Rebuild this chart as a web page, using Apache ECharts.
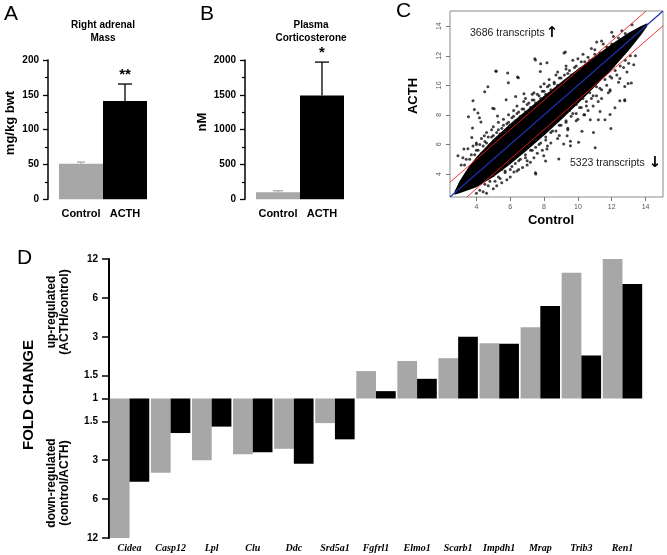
<!DOCTYPE html>
<html><head><meta charset="utf-8">
<script src="https://cdn.jsdelivr.net/npm/echarts@6/dist/echarts.min.js"></script>
<style>html,body{margin:0;padding:0;background:#fff}#c{width:667px;height:555px}</style>
</head><body><div id="c"></div>
<script>
// ---------- Panel A : Right adrenal mass ----------
const groupCats = ['Control', 'ACTH'];
const adrenalMass = [51, 141];
const adrenalMassErrTop = [53.5, 165.5];
const adrenalSig = ['', '**'];
// ---------- Panel B : Plasma corticosterone ----------
const corticosterone = [100, 1490];
const corticosteroneErrTop = [123, 1970];
const corticosteroneSig = ['', '*'];
// ---------- Panel C : microarray scatter (log2 expression) ----------
const scatterTicks = [4, 6, 8, 10, 12, 14];
const scatterRange = [2.44, 15.03];
const foldCutLog2 = 1;
// dense core of the cloud (upper and lower envelope)
const coreUpper = [[2.7,2.8],[3.0,3.5],[3.5,4.4],[4,5.15],[5,6.35],[6,7.4],[7,8.35],[8,9.3],[9,10.2],[10,11.1],[11,11.95],[12,12.8],[13,13.55],[13.7,14.0],[14.1,14.2]];
const coreLower = [[2.7,2.6],[3.0,2.7],[3.5,2.9],[4,3.1],[5,3.8],[6,4.65],[7,5.6],[8,6.6],[9,7.65],[10,8.75],[11,9.9],[12,11.05],[13,12.35],[13.7,13.35],[14.1,14.0]];
// individual transcripts outside the dense core
const scatterPoints = [
 [3.3,4.6],[3.6,5.0],[3.9,5.3],[4.1,5.6],[4.3,5.4],[4.4,5.9],[4.6,6.1],[4.8,6.0],[4.9,6.5],[5.1,6.3],[5.2,6.8],[5.4,6.7],[5.5,7.1],[5.7,6.9],[5.8,7.4],[6.0,7.3],[6.1,7.8],[6.3,7.6],[6.4,8.1],[6.6,7.9],[6.7,8.4],[6.9,8.2],[7.0,8.7],[7.2,8.5],[7.3,9.0],[7.5,8.8],[7.6,9.4],[7.8,9.1],[7.9,9.6],[8.1,9.4],[8.2,9.9],[8.4,9.7],[8.6,10.2],[8.8,10.0],[9.0,10.5],[9.2,10.3],[9.4,10.8],[9.6,10.7],[9.8,11.2],[10.1,11.1],[10.4,11.6],[10.7,11.7],[11.0,12.1],[11.3,12.2],[11.7,12.6],[12.0,12.8],[12.4,13.2],[12.8,13.5],
 [3.5,5.7],[4.0,6.1],[4.6,6.8],[5.0,7.2],[5.6,7.7],[6.2,8.3],[6.8,8.9],[7.4,9.5],[8.0,10.1],[8.7,10.7],[9.3,11.1],[10.0,11.8],
 [3.1,4.6],[3.4,5.0],[3.7,5.3],[4.0,5.6],[4.2,6.0],[4.5,6.2],[4.7,6.5],[5.0,6.6],[5.3,7.0],[5.6,7.3],[5.9,7.5],[6.2,7.9],[6.5,8.2],[6.8,8.4],[7.1,8.8],[7.4,9.0],[7.7,9.3],[8.0,9.6],[8.3,10.0],[8.6,10.1],[8.9,10.5],[9.2,10.7],[9.5,11.0],[9.9,11.3],[10.2,11.6],[10.6,11.9],[11.0,12.4],[11.5,12.8],[12.1,13.3],[12.6,13.7],[13.2,14.1],
 [3.2,5.1],[3.8,5.9],[4.3,6.4],[4.9,7.0],[5.3,7.5],[5.9,8.0],[6.4,8.6],[6.9,9.1],[7.3,9.4],[7.8,9.9],[8.3,10.4],[8.8,10.9],[9.3,11.3],[9.7,11.7],[10.3,12.1],[10.8,12.5],[11.4,13.0],[12.0,13.6],
 [4.2,2.9],[4.5,3.3],[4.8,3.5],[5.0,3.9],[5.3,3.8],[5.5,4.3],[5.7,4.1],[5.9,4.7],[6.1,4.5],[6.3,5.1],[6.5,4.9],[6.7,5.5],[6.9,5.3],[7.1,5.9],[7.3,5.6],[7.5,6.3],[7.7,6.0],[7.9,6.7],[8.1,6.5],[8.3,7.1],[8.5,6.9],[8.7,7.5],[8.9,7.3],[9.1,7.9],[9.3,7.6],[9.5,8.3],[9.7,8.1],[9.9,8.7],[10.1,8.5],[10.3,9.1],[10.5,8.9],[10.7,9.5],[10.9,9.3],[11.1,9.9],[11.3,9.8],[11.6,10.4],[11.9,10.6],[12.2,11.0],[12.5,11.3],[12.8,11.7],[13.1,12.0],
 [4.0,2.7],[4.4,2.8],[4.7,3.2],[5.1,3.5],[5.4,3.7],[5.7,4.2],[6.0,4.3],[6.3,4.7],[6.6,5.0],[6.9,5.1],[7.2,5.6],[7.5,5.8],[7.8,6.1],[8.1,6.3],[8.4,6.8],[8.7,6.9],[9.0,7.3],[9.3,7.5],[9.6,7.9],[9.9,8.1],[10.2,8.5],[10.5,8.6],[10.8,9.1],[11.1,9.3],[11.4,9.7],[11.7,10.0],[12.0,10.5],[12.3,10.7],[12.7,11.2],[13.0,11.5],[13.4,12.0],
 [4.6,2.7],[5.0,3.0],[5.5,3.4],[6.0,3.8],[6.5,4.3],[7.0,4.9],[7.4,5.1],[7.9,5.6],[8.4,6.1],[8.9,6.6],[9.4,7.0],[9.9,7.6],[10.4,8.0],[10.9,8.6],[11.4,9.1],[11.9,9.7],[12.4,10.2],[12.9,10.9],[13.3,11.4],
 [5.2,3.2],[5.8,3.6],[6.4,4.2],[7.0,4.6],[7.6,5.4],[8.2,5.9],[8.8,6.4],[9.4,7.1],[10.0,7.7],[10.6,8.3],[11.2,8.9],[11.8,9.5],
 [9.18,12.19],[7.45,11.79],[7.80,11.46],[5.17,10.95],[5.85,10.84],[3.80,8.95],[4.09,8.12],[3.77,7.11],[12.48,8.95],[12.77,8.95],[12.97,10.12],[11.95,7.07],[11.21,7.67],[11.6,7.67],[10.73,7.67],[12.48,10.46],[11.02,5.77],[7.51,3.99],[8.09,4.88],[6.73,4.44],[9.56,6.22],[10.35,8.01],[5.89,10.17],[6.43,10.57],[4.68,9.9],[4.49,9.57],[4.97,8.45],[4.0,6.0],[11.9,9.61],[11.31,8.23],[10.24,6.89],
 [10.92,6.8],[12.77,9.03],[12.19,8.48],[11.9,8.03],[8.87,5.02],[9.16,6.02],[9.56,5.91],[10.04,6.14],[9.36,6.58],[11.11,12.93],[9.26,12.26],[12.77,9.92],[13.16,10.15],
 [7.49,11.71],[5.15,10.97],[6.48,10.52],[7.78,10.93],[8.17,11.53],[3.88,8.36],[3.53,7.87],[4.18,7.81],[4.27,7.51],[5.05,8.41],[5.25,7.92],[5.76,9.03],[6.32,9.25],[6.81,9.43],[4.47,6.58],[3.73,6.47],[3.26,5.69],[2.91,5.24],[6.22,4.13],[7.19,4.8],[7.49,4.08],[7.98,5.24],[8.17,5.69]
];
// ---------- Panel D : fold change of selected genes ----------
const genes = ['Cidea','Casp12','Lpl','Clu','Ddc','Srd5a1','Fgfrl1','Elmo1','Scarb1','Impdh1','Mrap','Trib3','Ren1'];
// signed fold change: negative = down-regulated (control/ACTH), positive = up-regulated (ACTH/control)
const foldGray  = [-12, -3.75, -3.0, -2.7, -2.45, -1.55, 1.63, 1.95, 2.05, 2.68, 3.55, 9.4, 12];
const foldBlack = [-4.4, -1.85, -1.65, -2.6, -3.2, -2.07, 1.14, 1.42, 3.0, 2.65, 5.2, 2.15, 7.7];
const foldTicks = [-12, -6, -3, -1.5, 1, 1.5, 3, 6, 12];

// ---------- helpers ----------
const GRAY = '#a7a7a7', BLACK = '#000';
const AR = 'Arial, "Liberation Sans", sans-serif';
const toLog = f => f < 0 ? -Math.log2(-f) : Math.log2(f);
const foldTickPos = foldTicks.map(toLog);
const dMax = Math.log2(12);

function errorBar(colors, caps, sig) {
  return function (params, api) {
    const i = api.value(0);
    const p0 = api.coord([i, api.value(1)]);
    const p1 = api.coord([i, api.value(2)]);
    const c = colors[i], w = caps[i];
    const kids = [
      {type:'line', shape:{x1:p0[0], y1:p0[1], x2:p1[0], y2:p1[1]}, style:{stroke:c, lineWidth:1.3}},
      {type:'line', shape:{x1:p1[0]-w/2, y1:p1[1], x2:p1[0]+w/2, y2:p1[1]}, style:{stroke:c, lineWidth:1.3}}
    ];
    if (sig[i]) kids.push({type:'text', x:p1[0], y:p1[1]-2, style:{text:sig[i], align:'center', verticalAlign:'bottom', font:'bold 15px ' + AR, fill:'#000'}});
    return {type:'group', children:kids};
  };
}

const barAxisY = (max, interval) => ({
  min:0, max:max, interval:interval, offset:11,
  axisLine:{show:true, lineStyle:{color:'#000', width:1.5}},
  axisTick:{show:true, length:5, lineStyle:{color:'#000', width:1.3}},
  minorTick:{show:true, splitNumber:2, length:3, lineStyle:{color:'#000', width:1.2}},
  axisLabel:{fontFamily:AR, fontWeight:'bold', fontSize:10, color:'#000', margin:9, formatter:v => String(v)},
  splitLine:{show:false}
});
const barAxisX = () => ({
  type:'category', data:groupCats,
  axisLine:{show:false}, axisTick:{show:false},
  axisLabel:{interval:0, fontFamily:AR, fontWeight:'bold', fontSize:11, color:'#000', margin:9}
});

const chart = echarts.init(document.getElementById('c'), null, {renderer:'canvas'});
const option = {
  animation:false,
  backgroundColor:'#fff',
  grid:[
    {left:59, top:60, width:88, height:139.3},
    {left:256, top:60, width:88, height:139.3},
    {left:450, top:11, width:213, height:186, show:true, borderColor:'#8a8a8a', borderWidth:1},
    {left:109, top:259, width:534, height:279}
  ],
  xAxis:[
    Object.assign(barAxisX(), {gridIndex:0}),
    Object.assign(barAxisX(), {gridIndex:1}),
    {gridIndex:2, type:'value', min:scatterRange[0], max:scatterRange[1],
     axisLine:{show:false}, splitLine:{show:false},
     axisTick:{show:true, length:4, customValues:scatterTicks, lineStyle:{color:'#777'}},
     axisLabel:{customValues:scatterTicks, fontSize:7, color:'#555', fontFamily:AR, margin:7}},
    {gridIndex:3, type:'category', data:genes,
     axisLine:{show:false, onZero:false}, axisTick:{show:false},
     axisLabel:{interval:0, fontFamily:'"Liberation Serif", "Times New Roman", serif', fontStyle:'italic', fontWeight:'bold', fontSize:10, color:'#000', margin:5}}
  ],
  yAxis:[
    Object.assign(barAxisY(200, 50), {gridIndex:0}),
    Object.assign(barAxisY(2000, 500), {gridIndex:1}),
    {gridIndex:2, type:'value', min:scatterRange[0], max:scatterRange[1],
     axisLine:{show:false}, splitLine:{show:false},
     axisTick:{show:true, length:4, customValues:scatterTicks, lineStyle:{color:'#777'}},
     axisLabel:{customValues:scatterTicks, rotate:90, fontSize:7, color:'#555', fontFamily:AR, margin:7}},
    {gridIndex:3, type:'value', min:-dMax, max:dMax,
     axisLine:{show:true, lineStyle:{color:'#000', width:2}},
     axisTick:{show:true, length:7, customValues:foldTickPos, lineStyle:{color:'#000', width:1.5}},
     axisLabel:{customValues:foldTickPos, fontFamily:AR, fontWeight:'bold', fontSize:10, color:'#000', margin:11,
       formatter:v => { let b = 0; foldTickPos.forEach((p, i) => { if (Math.abs(p - v) < Math.abs(foldTickPos[b] - v)) b = i; }); return String(Math.abs(foldTicks[b])); }},
     splitLine:{show:false}}
  ],
  series:[
    // Panel A
    {type:'bar', xAxisIndex:0, yAxisIndex:0, barCategoryGap:'0%',
     data:adrenalMass.map((v, i) => ({value:v, itemStyle:{color:i ? BLACK : GRAY}}))},
    {type:'custom', xAxisIndex:0, yAxisIndex:0, renderItem:errorBar([GRAY, BLACK], [8, 14], adrenalSig),
     data:groupCats.map((c, i) => [i, adrenalMass[i], adrenalMassErrTop[i]]), z:3},
    // Panel B
    {type:'bar', xAxisIndex:1, yAxisIndex:1, barCategoryGap:'0%',
     data:corticosterone.map((v, i) => ({value:v, itemStyle:{color:i ? BLACK : GRAY}}))},
    {type:'custom', xAxisIndex:1, yAxisIndex:1, renderItem:errorBar([GRAY, BLACK], [10, 14], corticosteroneSig),
     data:groupCats.map((c, i) => [i, corticosterone[i], corticosteroneErrTop[i]]), z:3},
    // Panel C
    {type:'custom', xAxisIndex:2, yAxisIndex:2, silent:true, clip:true,
     data:[coreUpper[0]],
     renderItem:(params, api) => ({type:'polygon',
       shape:{points:coreUpper.concat(coreLower.slice().reverse()).map(p => api.coord(p))},
       style:{fill:'#000'}})},
    {type:'scatter', xAxisIndex:2, yAxisIndex:2, symbol:'circle', symbolSize:3,
     itemStyle:{color:'#111'}, data:scatterPoints, silent:true},
    {type:'line', xAxisIndex:2, yAxisIndex:2, symbol:'none', silent:true,
     lineStyle:{color:'#1e2fb0', width:1.2},
     data:[[scatterRange[0], scatterRange[0]], [scatterRange[1], scatterRange[1]]]},
    {type:'line', xAxisIndex:2, yAxisIndex:2, symbol:'none', silent:true,
     lineStyle:{color:'#e82020', width:0.9},
     data:[[scatterRange[0], scatterRange[0] + foldCutLog2], [scatterRange[1] - foldCutLog2, scatterRange[1]]]},
    {type:'line', xAxisIndex:2, yAxisIndex:2, symbol:'none', silent:true,
     lineStyle:{color:'#e82020', width:0.9},
     data:[[scatterRange[0] + foldCutLog2, scatterRange[0]], [scatterRange[1], scatterRange[1] - foldCutLog2]]},
    // Panel D
    {type:'bar', xAxisIndex:3, yAxisIndex:3, barGap:'0%', barCategoryGap:'4%',
     itemStyle:{color:GRAY}, data:foldGray.map(toLog)},
    {type:'bar', xAxisIndex:3, yAxisIndex:3, barGap:'0%', barCategoryGap:'4%',
     itemStyle:{color:BLACK}, data:foldBlack.map(toLog)}
  ],
  graphic:[
    {type:'text', x:4, y:4, style:{text:'A', font:'21px ' + AR, fill:'#000'}},
    {type:'text', x:200, y:4, style:{text:'B', font:'21px ' + AR, fill:'#000'}},
    {type:'text', x:396, y:1, style:{text:'C', font:'21px ' + AR, fill:'#000'}},
    {type:'text', x:17, y:248, style:{text:'D', font:'21px ' + AR, fill:'#000'}},
    {type:'text', x:103, y:32, style:{text:'Right adrenal\nMass', align:'center', verticalAlign:'middle', lineHeight:13, font:'bold 10px ' + AR, fill:'#000'}},
    {type:'text', x:311, y:32, style:{text:'Plasma\nCorticosterone', align:'center', verticalAlign:'middle', lineHeight:13, font:'bold 10px ' + AR, fill:'#000'}},
    {type:'text', x:10, y:123, rotation:Math.PI/2, style:{text:'mg/kg bwt', align:'center', verticalAlign:'middle', font:'bold 13px ' + AR, fill:'#000'}},
    {type:'text', x:202, y:122, rotation:Math.PI/2, style:{text:'nM', align:'center', verticalAlign:'middle', font:'bold 13px ' + AR, fill:'#000'}},
    {type:'text', x:413, y:96, rotation:Math.PI/2, style:{text:'ACTH', align:'center', verticalAlign:'middle', font:'bold 13px ' + AR, fill:'#000'}},
    {type:'text', x:551, y:220, style:{text:'Control', align:'center', verticalAlign:'middle', font:'bold 13px ' + AR, fill:'#000'}},
    {type:'text', x:470, y:33, style:{text:'3686 transcripts', align:'left', verticalAlign:'middle', font:'10.5px ' + AR, fill:'#222'}},
    {type:'text', x:552, y:33, style:{text:'\u2191', align:'center', verticalAlign:'middle', font:'bold 15px "DejaVu Sans"', fill:'#000'}},
    {type:'text', x:570, y:163, style:{text:'5323 transcripts', align:'left', verticalAlign:'middle', font:'10.5px ' + AR, fill:'#222'}},
    {type:'text', x:655, y:163, style:{text:'\u2193', align:'center', verticalAlign:'middle', font:'bold 15px "DejaVu Sans"', fill:'#000'}},
    {type:'text', x:29, y:395, rotation:Math.PI/2, style:{text:'FOLD CHANGE', align:'center', verticalAlign:'middle', font:'bold 15px ' + AR, fill:'#000'}},
    {type:'text', x:58, y:312, rotation:Math.PI/2, style:{text:'up-regulated\n(ACTH/control)', align:'center', verticalAlign:'middle', lineHeight:13, font:'bold 12px ' + AR, fill:'#000'}},
    {type:'text', x:58, y:483, rotation:Math.PI/2, style:{text:'down-regulated\n(control/ACTH)', align:'center', verticalAlign:'middle', lineHeight:13, font:'bold 12px ' + AR, fill:'#000'}}
  ]
};
chart.setOption(option);
</script>
</body></html>
